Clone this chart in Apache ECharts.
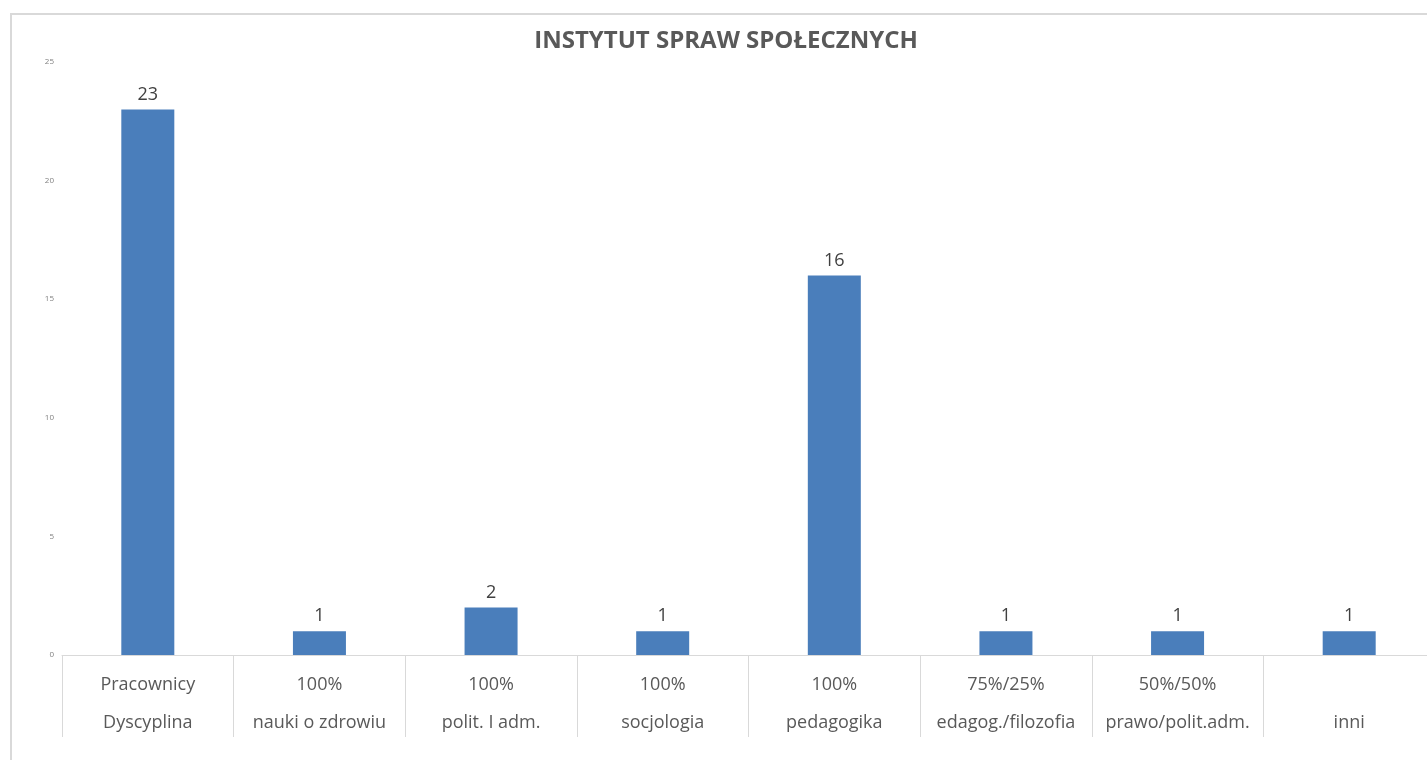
<!DOCTYPE html>
<html>
<head>
<meta charset="utf-8">
<script src="https://cdn.jsdelivr.net/npm/echarts@6/dist/echarts.min.js"></script>
<style>
  html, body { margin: 0; padding: 0; background: #fff; overflow: hidden; width: 1427px; height: 760px; }
  #frame { position: absolute; left: 10px; top: 13px; width: 1440px; height: 760px; border: 2px solid #d9d9d9; box-sizing: border-box; }
  #chart { position: absolute; left: 0; top: 0; width: 1440px; height: 760px; }
</style>
</head>
<body>
<div id="frame"></div>
<div id="chart"></div>
<script>
// kategorie: górny wiersz (udział) i dolny wiersz (dyscyplina)
const topRow = ["Pracownicy", "100%", "100%", "100%", "100%", "75%/25%", "50%/50%", ""];
const bottomRow = ["Dyscyplina", "nauki o zdrowiu", "polit. I adm.", "socjologia", "pedagogika", "edagog./filozofia", "prawo/polit.adm.", "inni"];
const values = [23, 1, 2, 1, 16, 1, 1, 1];
const yTicks = { min: 0, max: 25, interval: 5 };

const categories = topRow.map((t, i) => t + "\n" + bottomRow[i]);

const chart = echarts.init(document.getElementById("chart"));

const option = {
  animation: false,
  title: {
    text: "INSTYTUT SPRAW SPOŁECZNYCH",
    left: 721,
    textAlign: "center",
    top: 24,
    textStyle: {
      fontFamily: "Open Sans",
      fontSize: 24,
      fontWeight: "bold",
      color: "#595959",
    },
  },
  grid: {
    left: 62,
    top: 62,
    width: 1373,
    height: 593,
    containLabel: false,
  },
  xAxis: {
    type: "category",
    data: categories,
    axisLine: { lineStyle: { color: "#d9d9d9", width: 1 } },
    axisTick: {
      show: true,
      interval: 0,
      alignWithLabel: false,
      length: 82,
      lineStyle: { color: "#d9d9d9" },
    },
    axisLabel: {
      interval: 0,
      margin: 11,
      lineHeight: 38,
      fontSize: 18,
      fontFamily: "Open Sans",
      color: "#595959",
    },
  },
  yAxis: {
    type: "value",
    min: yTicks.min,
    max: yTicks.max,
    interval: yTicks.interval,
    splitLine: { show: false },
    axisLine: { show: false },
    axisTick: { show: false },
    axisLabel: {
      fontSize: 8,
      margin: 8,
      fontFamily: "Open Sans",
      color: "#808080",
    },
  },
  series: [
    {
      type: "bar",
      data: values,
      barWidth: 53,
      itemStyle: { color: "#4a7ebb" },
      label: {
        show: true,
        position: "top",
        distance: 6,
        fontSize: 18,
        fontFamily: "Open Sans",
        color: "#404040",
      },
    },
  ],
};

chart.setOption(option);
</script>
</body>
</html>
